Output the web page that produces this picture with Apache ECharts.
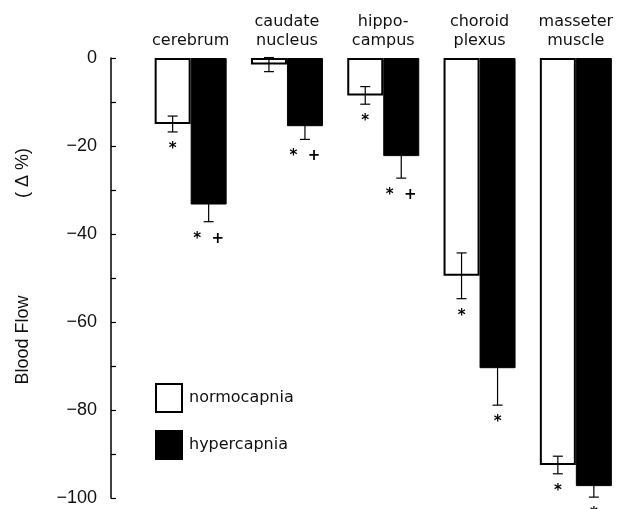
<!DOCTYPE html>
<html>
<head>
<meta charset="utf-8">
<script src="https://cdn.jsdelivr.net/npm/echarts@6/dist/echarts.min.js"></script>
<style>
html,body{margin:0;padding:0;background:#fff;}
#chart{width:624px;height:509px;}
</style>
</head>
<body>
<div id="chart"></div>
<script>
// ---- data ----
const categories = ['cerebrum', 'caudate\nnucleus', 'hippo-\ncampus', 'choroid\nplexus', 'masseter\nmuscle'];
const seriesNames = ['normocapnia', 'hypercapnia'];
const normo = [-15, -1.5, -8.5, -49.5, -92.5];
const normoSE = [1.8, 1.6, 2.0, 5.2, 2.0];
const hyper = [-33.3, -15.5, -22.3, -70.5, -97.3];
const hyperSE = [3.9, 3.0, 5.0, 8.4, 2.5];
const normoSig = ['*', '', '*', '*', '*'];
const hyperSig = ['*  +', '*  +', '*  +', '*', '*'];
const yTicks = [0, -20, -40, -60, -80, -100];

// ---- styles ----
const BAR_W = 36;
const INK = '#000';
const TXT = '#111';
const chart = echarts.init(document.getElementById('chart'));

function errSeries(vals, ses, sigs, sign) {
  return {
    type: 'custom',
    z: 10,
    silent: true,
    data: vals.map((v, i) => [i, v, ses[i]]),
    encode: { x: 0, y: 1 },
    renderItem: function (params, api) {
      const i = api.value(0), v = api.value(1), se = api.value(2);
      const off = sign * BAR_W / 2;
      const top = api.coord([i, v + se]);
      const bot = api.coord([i, v - se]);
      const x = top[0] + off;
      const cap = 5;
      const st = { stroke: INK, lineWidth: 1.2 };
      const children = [
        { type: 'line', shape: { x1: x, y1: top[1], x2: x, y2: bot[1] }, style: st },
        { type: 'line', shape: { x1: x - cap, y1: top[1], x2: x + cap, y2: top[1] }, style: st },
        { type: 'line', shape: { x1: x - cap, y1: bot[1], x2: x + cap, y2: bot[1] }, style: st }
      ];
      const s = sigs[params.dataIndex];
      if (s) {
        children.push({
          type: 'text',
          style: {
            x: x, y: bot[1] + 17, text: s, align: 'center', verticalAlign: 'middle',
            fill: INK, font: 'bold 15px "DejaVu Sans"'
          }
        });
      }
      return { type: 'group', children: children };
    }
  };
}

chart.setOption({
  animation: false,
  backgroundColor: '#fff',
  grid: { left: 142.5, top: 58, right: -5.5, height: 440 },
  legend: {
    data: seriesNames,
    orient: 'vertical',
    left: 155, top: 383,
    itemWidth: 26, itemHeight: 28, itemGap: 17,
    icon: 'rect',
    padding: 0,
    textStyle: { fontSize: 16, fontFamily: 'DejaVu Sans', color: TXT, padding: [12, 0, 0, 2] }
  },
  xAxis: {
    type: 'category',
    position: 'top',
    data: categories,
    axisLine: { show: false },
    axisTick: { show: false },
    axisLabel: { interval: 0, margin: 8, fontSize: 16, lineHeight: 19, fontFamily: 'DejaVu Sans', color: TXT }
  },
  yAxis: {
    type: 'value',
    min: -100, max: 0, interval: 20,
    offset: 31.5,
    axisLine: { show: true, lineStyle: { color: INK, width: 1.5 } },
    axisTick: { show: true, inside: true, length: 5, lineStyle: { color: INK, width: 1.2 } },
    minorTick: { show: true, splitNumber: 2, length: 5, lineStyle: { color: INK, width: 1.2 } },
    splitLine: { show: false },
    axisLabel: {
      margin: 14, fontSize: 18, fontFamily: 'Liberation Sans', color: TXT,
      formatter: v => yTicks.includes(v) ? String(v).replace('-', '\u2212') : ''
    }
  },
  graphic: [
    { type: 'text', x: 23, y: 340, rotation: Math.PI / 2,
      style: { text: 'Blood Flow', align: 'center', verticalAlign: 'middle', fill: TXT, font: '18px "Liberation Sans"' } },
    { type: 'text', x: 23, y: 173, rotation: Math.PI / 2,
      style: { text: '( \u0394 %)', align: 'center', verticalAlign: 'middle', fill: TXT, font: '18px "Liberation Sans"' } }
  ],
  series: [
    {
      name: seriesNames[0], type: 'bar', data: normo, barWidth: BAR_W, barGap: '0%',
      itemStyle: { color: '#fff', borderColor: INK, borderWidth: 2 }
    },
    {
      name: seriesNames[1], type: 'bar', data: hyper, barWidth: BAR_W, barGap: '0%',
      itemStyle: { color: '#000', borderColor: '#000', borderWidth: 1 }
    },
    errSeries(normo, normoSE, normoSig, -1),
    errSeries(hyper, hyperSE, hyperSig, 1)
  ]
});
</script>
</body>
</html>
